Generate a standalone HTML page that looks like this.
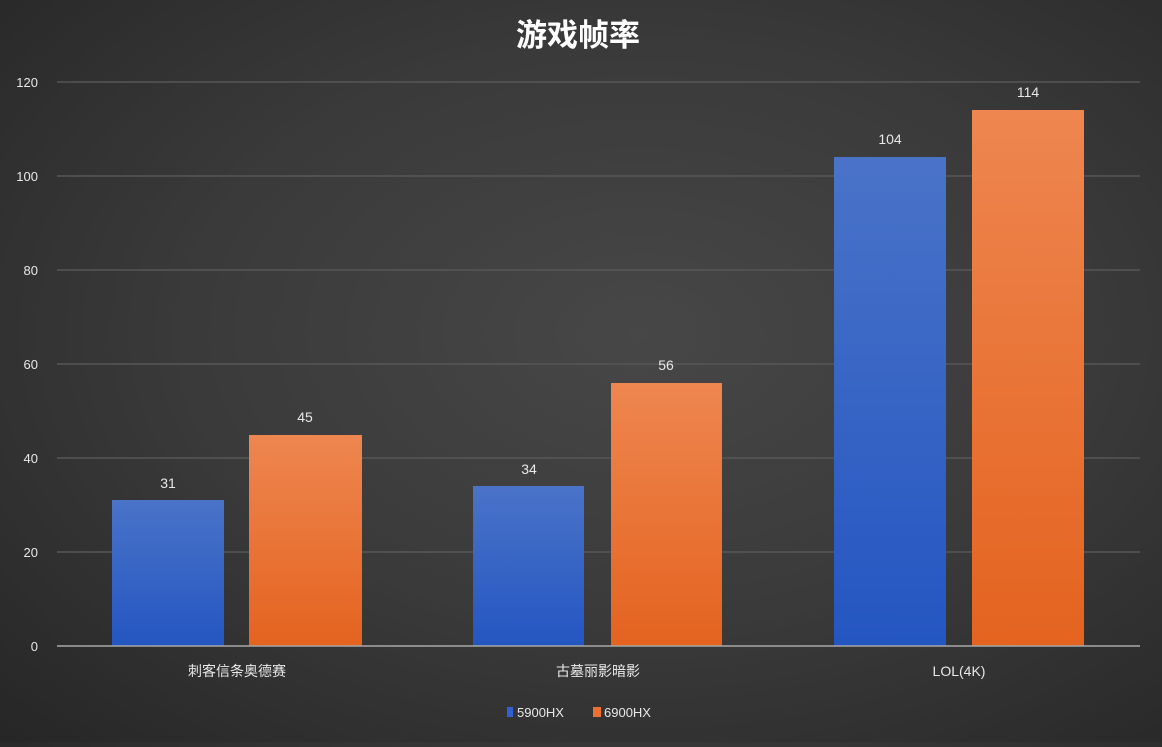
<!DOCTYPE html><html><head><meta charset="utf-8"><style>
body{margin:0;width:1162px;height:742px;overflow:hidden;background:radial-gradient(ellipse at 55% 45%,#474747 0%,#3a3a3a 50%,#262626 100%);font-family:"Liberation Sans","Noto Sans CJK SC",sans-serif}
</style></head><body>
<svg width="1162" height="742" xmlns="http://www.w3.org/2000/svg" font-family="Liberation Sans, Noto Sans CJK SC, sans-serif">
<defs>
<linearGradient id="b" x1="0" y1="0" x2="0" y2="1"><stop offset="0" stop-color="#4a73c8"/><stop offset="1" stop-color="#2456c2"/></linearGradient>
<linearGradient id="o" x1="0" y1="0" x2="0" y2="1"><stop offset="0" stop-color="#ee8650"/><stop offset="1" stop-color="#e4631f"/></linearGradient>
</defs>
<text x="578" y="46" fill="#fff" font-size="31" font-weight="bold" text-anchor="middle">游戏帧率</text>
<g stroke="#575757" stroke-width="1.5">
<line x1="57" x2="1140" y1="82" y2="82"/><line x1="57" x2="1140" y1="176" y2="176"/><line x1="57" x2="1140" y1="270" y2="270"/><line x1="57" x2="1140" y1="364" y2="364"/><line x1="57" x2="1140" y1="458" y2="458"/><line x1="57" x2="1140" y1="552" y2="552"/>
</g>
<g fill="#e8e8e8" font-size="13" text-anchor="end">
<text x="38" y="87">120</text><text x="38" y="181">100</text><text x="38" y="275">80</text><text x="38" y="369">60</text><text x="38" y="463">40</text><text x="38" y="557">20</text><text x="38" y="651">0</text>
</g>
<rect x="112" y="500" width="112" height="146" fill="url(#b)"/>
<rect x="249" y="435" width="113" height="211" fill="url(#o)"/>
<rect x="473" y="486" width="111" height="160" fill="url(#b)"/>
<rect x="611" y="383" width="111" height="263" fill="url(#o)"/>
<rect x="834" y="157" width="112" height="489" fill="url(#b)"/>
<rect x="972" y="110" width="112" height="536" fill="url(#o)"/>
<line x1="57" x2="1140" y1="646" y2="646" stroke="#a8a8a8" stroke-width="1.5"/>
<g fill="#e8e8e8" font-size="14" text-anchor="middle">
<text x="168" y="488">31</text><text x="305" y="422">45</text><text x="529" y="474">34</text><text x="666" y="370">56</text><text x="890" y="144">104</text><text x="1028" y="97">114</text>
<text x="237" y="676">刺客信条奥德赛</text><text x="598" y="676">古墓丽影暗影</text><text x="959" y="676">LOL(4K)</text>
</g>
<rect x="507" y="707" width="6" height="10" fill="#2f62d0"/>
<text x="517" y="717" fill="#e8e8e8" font-size="13">5900HX</text>
<rect x="593" y="707" width="8" height="10" fill="#ee7030"/>
<text x="604" y="717" fill="#e8e8e8" font-size="13">6900HX</text>
</svg>
</body></html>
